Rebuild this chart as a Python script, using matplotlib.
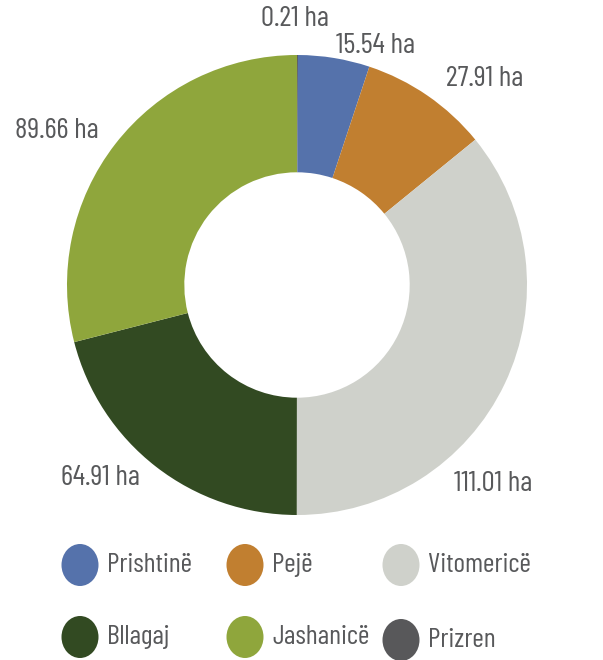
import matplotlib
matplotlib.use("Agg")
import matplotlib.pyplot as plt
from matplotlib.patches import Ellipse

# data (clockwise from 12 o'clock)
regions = ["Prizren", "Prishtinë", "Pejë", "Vitomericë", "Bllagaj", "Jashanicë"]
areas = [0.21, 15.54, 27.91, 111.01, 64.91, 89.66]
colors = ["#58585a", "#5572ab", "#c17f30", "#cfd1cb", "#324a22", "#8fa63c"]

# label positions in pixels (x, y from top)
label_pos = {
    "Prizren": (295, 19),
    "Prishtinë": (375, 46),
    "Pejë": (485, 79),
    "Vitomericë": (493, 484),
    "Bllagaj": (100, 478),
    "Jashanicë": (57, 131),
}

# legend layout (rows as in the picture)
legend_order = ["Prishtinë", "Pejë", "Vitomericë", "Bllagaj", "Jashanicë", "Prizren"]
legend_xy = [(80, 565), (245, 565), (401, 565), (80, 637), (245, 637), (401, 640)]

plt.rcParams['font.family'] = ['Barlow Condensed', 'DejaVu Sans']
txt_color = "#58595b"

W, H = 603, 660
fig = plt.figure(figsize=(W / 100, H / 100), dpi=100)
fig.patch.set_facecolor('white')

cx, cy, r = 297, 285, 230
ax = fig.add_axes([(cx - r) / W, (H - cy - r) / H, 2 * r / W, 2 * r / H])
ax.pie(areas, colors=colors, startangle=90, counterclock=False, radius=1,
       wedgeprops=dict(width=0.51, edgecolor='none'))
ax.set_xlim(-1, 1)
ax.set_ylim(-1, 1)
ax.set_aspect('equal')
ax.axis('off')

# overlay in pixel coordinates for labels and legend
ov = fig.add_axes([0, 0, 1, 1], facecolor='none')
ov.set_xlim(0, W)
ov.set_ylim(H, 0)
ov.axis('off')

for name, val in zip(regions, areas):
    x, y = label_pos[name]
    ov.text(x, y, f"{val:.2f} ha", ha='center', va='center',
            fontsize=21, color=txt_color)

for name, (x, y) in zip(legend_order, legend_xy):
    c = colors[regions.index(name)]
    ov.add_patch(Ellipse((x, y), 37, 42, facecolor=c, edgecolor='none'))
    ov.text(x + 27, y, name, ha='left', va='center', fontsize=20, color=txt_color)

fig.savefig("out.png", dpi=100, facecolor='white')
